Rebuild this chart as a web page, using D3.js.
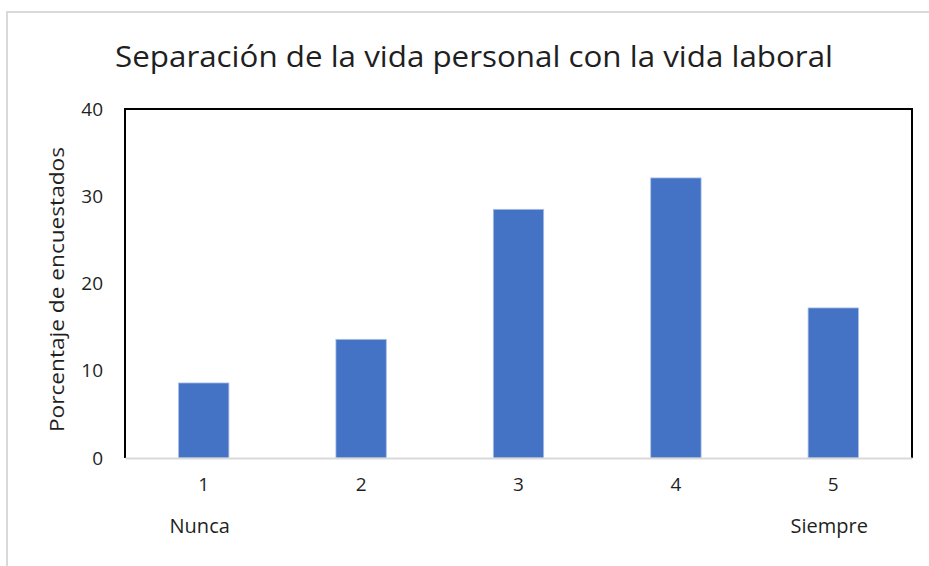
<!DOCTYPE html>
<html>
<head>
<meta charset="utf-8">
<script src="https://cdn.jsdelivr.net/npm/d3@7"></script>
<style>
  body { margin: 0; background: #fff; }
  text { font-family: "Open Sans", "Noto Sans", sans-serif; fill: #1f1f1f; }
</style>
</head>
<body>
<div id="chart"></div>
<script>
const categories = ["1", "2", "3", "4", "5"];
const subLabels = ["Nunca", "", "", "", "Siempre"];
const values = [8.6, 13.6, 28.5, 32.1, 17.2];
const yTicks = [0, 10, 20, 30, 40];
const title = "Separación de la vida personal con la vida laboral";
const yTitle = "Porcentaje de encuestados";

const width = 929, height = 566;
const margin = { top: 109, right: 17, bottom: 108, left: 125 };
const plotW = width - margin.left - margin.right;
const plotH = height - margin.top - margin.bottom;

const svg = d3.select("#chart").append("svg")
  .attr("width", width)
  .attr("height", height);

// outer chart frame
svg.append("rect")
  .attr("x", 7).attr("y", 12)
  .attr("width", width).attr("height", height)
  .attr("fill", "none")
  .attr("stroke", "#d9d9d9")
  .attr("stroke-width", 2);

svg.append("text")
  .attr("x", 474).attr("y", 67)
  .attr("text-anchor", "middle")
  .attr("font-size", 30)
  .attr("textLength", 718)
  .attr("lengthAdjust", "spacingAndGlyphs")
  .text(title);

const g = svg.append("g")
  .attr("transform", "translate(" + margin.left + "," + margin.top + ")");

const x = d3.scaleBand()
  .domain(categories)
  .range([0, plotW])
  .paddingInner(0.68)
  .paddingOuter(0.34);

const y = d3.scaleLinear()
  .domain([0, 40])
  .range([plotH, 0]);

// bars
g.selectAll("rect.bar")
  .data(values)
  .enter()
  .append("rect")
  .attr("class", "bar")
  .attr("x", (d, i) => x(categories[i]))
  .attr("y", d => y(d))
  .attr("width", x.bandwidth())
  .attr("height", d => plotH - y(d))
  .attr("fill", "#4472c4")
  .attr("stroke", "#a9bfe6")
  .attr("stroke-width", 0.8);

// plot frame: black on top, left and right
g.append("path")
  .attr("d", "M0," + plotH + "V0H" + plotW + "V" + plotH)
  .attr("fill", "none")
  .attr("stroke", "#000")
  .attr("stroke-width", 2);

// y axis
const yAxis = g.append("g")
  .call(d3.axisLeft(y).tickValues(yTicks).tickSize(0).tickPadding(22));
yAxis.select(".domain").remove();
yAxis.selectAll("text")
  .attr("font-size", 19)
  .attr("fill", "#1f1f1f")
  .style("font-family", "'Open Sans', sans-serif");

// x axis
const xAxis = g.append("g")
  .attr("transform", "translate(0," + plotH + ")")
  .call(d3.axisBottom(x).tickSize(0).tickPadding(20));
xAxis.select(".domain")
  .attr("stroke", "#d9d9d9")
  .attr("stroke-width", 2);
xAxis.selectAll("text")
  .attr("font-size", 19)
  .attr("fill", "#1f1f1f")
  .style("font-family", "'Open Sans', sans-serif");

g.selectAll("text.sub")
  .data(subLabels)
  .enter()
  .append("text")
  .attr("class", "sub")
  .attr("x", (d, i) => x(categories[i]) + x.bandwidth() / 2 - 4)
  .attr("y", plotH + 75)
  .attr("text-anchor", "middle")
  .style("font-size", "20px")
  .text(d => d);

// y axis title
svg.append("text")
  .attr("transform", "translate(64," + (margin.top + plotH / 2 + 6) + ") rotate(-90)")
  .attr("text-anchor", "middle")
  .attr("font-size", 20)
  .attr("textLength", 285)
  .attr("lengthAdjust", "spacingAndGlyphs")
  .text(yTitle);
</script>
</body>
</html>
